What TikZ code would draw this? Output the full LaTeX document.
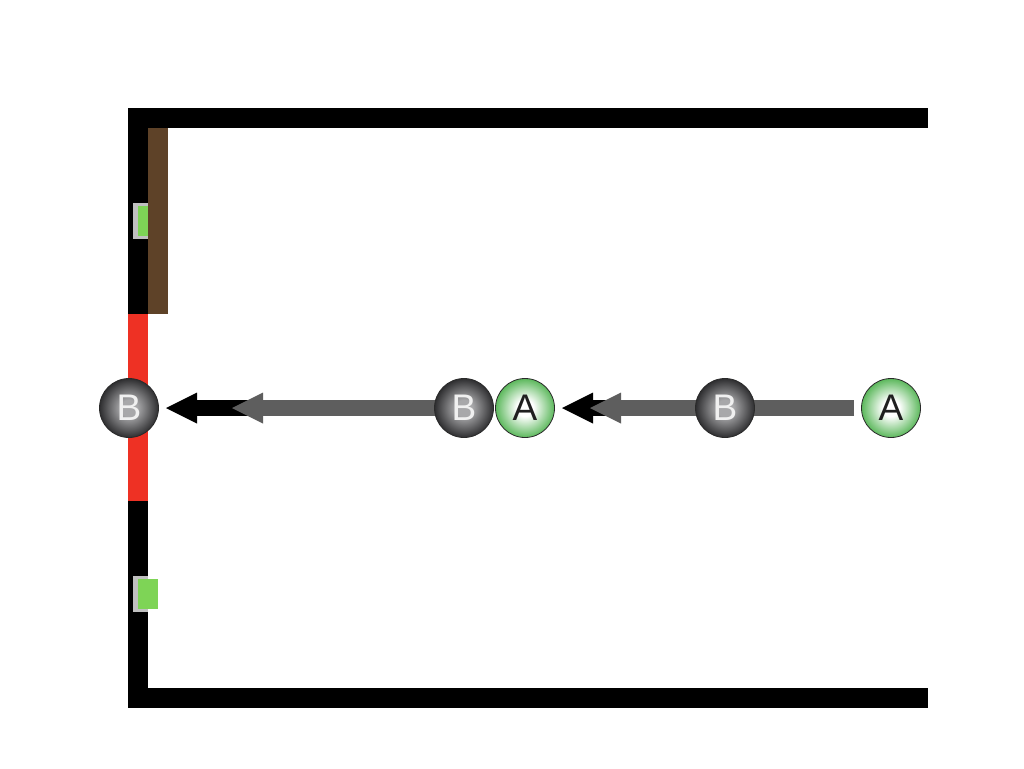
\documentclass[tikz,border=0pt]{standalone}
\usepackage{fontspec}
\setmainfont{Liberation Sans}
\usetikzlibrary{arrows.meta}
\definecolor{wallbrown}{HTML}{5E4228}
\definecolor{wallred}{HTML}{EE3124}
\definecolor{ledgreen}{HTML}{7ED456}
\definecolor{ledgray}{HTML}{C0C0C0}
\definecolor{arrowgraycol}{HTML}{5E5E5E}
\definecolor{bin}{HTML}{A8A8AA}
\definecolor{bout}{HTML}{2E2E30}
\definecolor{agreen}{HTML}{5CB85C}
\definecolor{rimcol}{HTML}{2A2A2A}
\pgfdeclareradialshading{bballshade}{\pgfpoint{0bp}{0bp}}{color(0bp)=(bin); color(7bp)=(bin); color(25bp)=(bout); color(50bp)=(bout)}
\pgfdeclareradialshading{aballshade}{\pgfpoint{0bp}{0bp}}{color(0bp)=(white); color(7bp)=(white); color(25bp)=(agreen); color(50bp)=(agreen)}
\tikzset{
  ballbase/.style={circle, minimum size=59pt, inner sep=0pt, draw=rimcol, line width=0.8pt,
    font=\fontsize{37}{40}\selectfont},
  ballB/.style={ballbase, shading=bballshade, text=white!94!black},
  ballA/.style={ballbase, shading=aballshade, text=black!88},
  arrowgray/.style={line width=16pt, draw=arrowgraycol, -{Triangle[length=31pt,width=31pt,line width=0pt]}},
  arrowblack/.style={line width=16pt, draw=black, -{Triangle[length=31pt,width=31pt,line width=0pt]}},
  plainbar/.style={line width=16pt, draw=arrowgraycol},
}
\begin{document}
\begin{tikzpicture}[x=1pt,y=-1pt]
\useasboundingbox (0,0) rectangle (1024,768);
\fill[white] (0,0) rectangle (1024,768);
% walls
\fill[black] (128,108) rectangle (928,128);
\fill[black] (128,108) rectangle (148,708);
\fill[black] (128,688) rectangle (928,708);
\fill[wallred] (128,314) rectangle (148,501);
% upper sensor
\fill[ledgray] (133,203) rectangle (148,239);
\fill[ledgreen] (138,206) rectangle (148,236);
\fill[wallbrown] (148,128) rectangle (168,314);
% lower sensor
\fill[ledgray] (133,576) rectangle (148,612);
\fill[ledgreen] (138,579) rectangle (158,609);
% coordinates
\coordinate (t1) at (166,408);
\coordinate (s1) at (262,408);
\coordinate (t2) at (232,408);
\coordinate (t3) at (562,408);
\coordinate (s3) at (622,408);
\coordinate (t4) at (590,408);
\coordinate (s4) at (854,408);
\coordinate (s2) at (464,408);
% arrows
\draw[arrowblack] (s1) -- (t1);
\draw[arrowgray] (s2) -- (t2);
\draw[arrowblack] (s3) -- (t3);
\draw[arrowgray] (s4) -- (t4);
% balls
\node[ballB] (Bl) at (129,408) {B};
\node[ballB] (Bm) at (464,408) {B};
\node[ballA] (Am) at (525,408) {A};
\node[ballB] (Br) at (725,408) {B};
\node[ballA] (Ar) at (891,408) {A};
\end{tikzpicture}
\end{document}
